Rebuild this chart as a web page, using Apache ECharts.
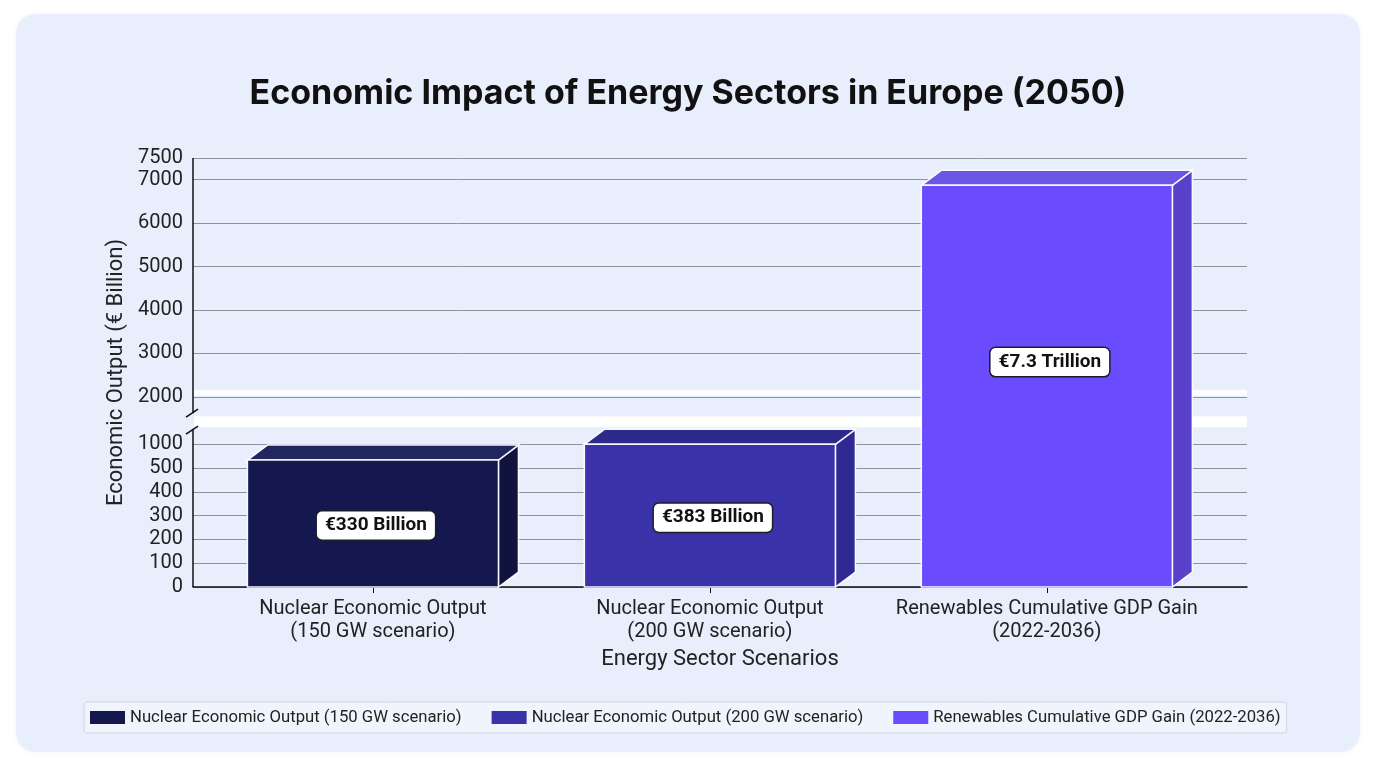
<!doctype html>
<html>
<head>
<meta charset="UTF-8">
<title>Economic Impact of Energy Sectors in Europe (2050)</title>
<style>
	html, body {
		margin: 0;
		padding: 0;
		background: #ffffff;
		width: 1376px;
		height: 768px;
		overflow: hidden;
	}
	#card {
		position: absolute;
		left: 16px;
		top: 14px;
		width: 1344px;
		height: 738px;
		border-radius: 20px;
		background: #e8eefb;
		box-shadow: 0 0 6px rgba(0, 0, 0, 0.05);
	}
	#chart {
		position: absolute;
		left: 0;
		top: 0;
		width: 1376px;
		height: 768px;
	}
</style>
</head>
<body>
<div id="card"></div>
<div id="chart"></div>
<script src="https://cdn.jsdelivr.net/npm/echarts@6.0.0/dist/echarts.min.js"></script>
<script>
	// data
	var categories = [
		'Nuclear Economic Output\n(150 GW scenario)',
		'Nuclear Economic Output\n(200 GW scenario)',
		'Renewables Cumulative GDP Gain\n(2022-2036)'
	];
	var seriesNames = [
		'Nuclear Economic Output (150 GW scenario)',
		'Nuclear Economic Output (200 GW scenario)',
		'Renewables Cumulative GDP Gain (2022-2036)'
	];
	// bar heights as they read against the (broken) axis
	var barValues = [670, 1000, 6870];
	var barLabels = ['€330 Billion', '€383 Billion', '€7.3 Trillion'];
	var yTicks = [0, 100, 200, 300, 400, 500, 1000, 2000, 3000, 4000, 5000, 6000, 7000, 7500];

	// front / top / side colours of each box
	var faceColors = [
		['#15184f', '#22265f', '#10133e'],
		['#3a32a8', '#2e2a8c', '#2f2994'],
		['#6a4bfd', '#6b55e6', '#5a41cc']
	];

	// piecewise scale of the broken axis -> plain axis units
	function toAxis(v) {
		if (v <= 500) return v / 100;
		if (v <= 1000) return 5 + (v - 500) / 500;
		if (v <= 2000) return 6 + (v - 1000) / 500;
		return 8 + (v - 2000) / 1000 * 1.826;
	}
	var yMax = toAxis(7500);

	function tickLabel(u) {
		for (var i = 0; i < yTicks.length; i++) {
			if (Math.abs(toAxis(yTicks[i]) - u) < 1e-6) return String(yTicks[i]);
		}
		return '';
	}

	var DX = 20, DY = 15, BAR_W = 0.745;

	function renderBox(params, api) {
		var idx = api.value(2);
		var col = faceColors[idx];
		var top = api.coord([api.value(0), api.value(1)]);
		var base = api.coord([api.value(0), 0]);
		var w = api.size([BAR_W, 0])[0];
		var x = top[0] - w / 2;
		var y = top[1];
		var b = base[1];
		// the tall box has its label a bit above the middle
		var ly = idx === 2 ? y + (b - y) * 0.44 : (y + b) / 2 + 2;
		var edge = { stroke: 'rgba(255,255,255,0.95)', lineWidth: 1.5 };
		return {
			type: 'group',
			children: [{
				type: 'polygon',
				shape: { points: [[x + w, y], [x + w + DX, y - DY], [x + w + DX, b - DY], [x + w, b]] },
				style: Object.assign({ fill: col[2] }, edge)
			}, {
				type: 'polygon',
				shape: { points: [[x, y], [x + DX, y - DY], [x + w + DX, y - DY], [x + w, y]] },
				style: Object.assign({ fill: col[1] }, edge)
			}, {
				type: 'rect',
				shape: { x: x, y: y, width: w, height: b - y },
				style: Object.assign({ fill: col[0] }, edge)
			}, {
				type: 'text',
				style: {
					text: barLabels[idx],
					x: x + w / 2 + 3,
					y: ly,
					align: 'center',
					verticalAlign: 'middle',
					font: 'bold 19px Roboto, "Noto Sans", sans-serif',
					fill: '#111',
					backgroundColor: '#ffffff',
					borderColor: '#1c1c2a',
					borderWidth: 1.5,
					borderRadius: 5,
					padding: [5, 8, 4, 8]
				}
			}]
		};
	}

	// white break bands, y axis line with gap and break slashes
	function renderDecor(params, api) {
		var cs = params.coordSys;
		var yOf = function (u) { return api.coord([0, u])[1]; };
		var x0 = cs.x;
		var gapTop = yOf(7.31), gapBot = yOf(6.6);
		var line = { stroke: '#111', lineWidth: 1.5 };
		return {
			type: 'group',
			children: [{
				type: 'rect',
				shape: { x: x0 + 1, y: yOf(7.18), width: cs.width - 1, height: yOf(6.72) - yOf(7.18) },
				style: { fill: 'rgba(255,255,255,0.95)' }
			}, {
				type: 'rect',
				shape: { x: x0 + 1, y: yOf(8.3), width: cs.width - 1, height: yOf(8.04) - yOf(8.3) },
				style: { fill: 'rgba(255,255,255,0.85)' }
			}, {
				type: 'line',
				shape: { x1: x0, y1: cs.y, x2: x0, y2: gapTop },
				style: line
			}, {
				type: 'line',
				shape: { x1: x0, y1: gapBot, x2: x0, y2: cs.y + cs.height },
				style: line
			}, {
				type: 'line',
				shape: { x1: x0 - 7, y1: gapTop + 4, x2: x0 + 5, y2: gapTop - 4 },
				style: line
			}, {
				type: 'line',
				shape: { x1: x0 - 7, y1: gapBot + 4, x2: x0 + 5, y2: gapBot - 4 },
				style: line
			}]
		};
	}

	var series = [{
		name: 'decor',
		type: 'custom',
		silent: true,
		z: 1,
		renderItem: renderDecor,
		data: [[0, 0]]
	}];
	for (var i = 0; i < barValues.length; i++) {
		series.push({
			name: seriesNames[i],
			type: 'custom',
			z: 3,
			renderItem: renderBox,
			itemStyle: { color: faceColors[i][0] },
			encode: { x: 0, y: 1 },
			data: [[i, toAxis(barValues[i]), i]]
		});
	}

	var chart = echarts.init(document.getElementById('chart'));
	chart.setOption({
		animation: false,
		textStyle: { fontFamily: 'Roboto, "Noto Sans", sans-serif' },
		title: {
			text: 'Economic Impact of Energy Sectors in Europe (2050)',
			left: 'center',
			top: 72,
			textStyle: { fontSize: 34, fontWeight: 'bold', color: '#111', fontFamily: 'Inter, Roboto, sans-serif' }
		},
		grid: { left: 193, right: 129, top: 158, bottom: 181 },
		legend: {
			data: seriesNames,
			left: 84,
			top: 702,
			icon: 'rect',
			itemWidth: 35,
			itemHeight: 13,
			itemGap: 30,
			padding: [7, 6, 7, 6],
			backgroundColor: 'rgba(255,255,255,0.35)',
			borderColor: '#cfd5e2',
			borderWidth: 1,
			borderRadius: 3,
			textStyle: { fontSize: 16.7, color: '#222' }
		},
		xAxis: {
			type: 'value',
			min: -0.534,
			max: 2.594,
			name: 'Energy Sector Scenarios',
			nameLocation: 'middle',
			nameGap: 61,
			nameTextStyle: { fontSize: 22, color: '#222' },
			axisLine: { lineStyle: { color: '#111', width: 1.5 } },
			axisTick: { customValues: [0, 1, 2], length: 6, lineStyle: { color: '#111' } },
			axisLabel: {
				customValues: [0, 1, 2],
				formatter: function (v) { return categories[v]; },
				fontSize: 20,
				lineHeight: 23,
				color: '#222',
				margin: 10
			},
			splitLine: { show: false }
		},
		yAxis: {
			type: 'value',
			min: 0,
			max: yMax,
			name: 'Economic Output (€ Billion)',
			nameLocation: 'middle',
			nameGap: 64,
			nameTextStyle: { fontSize: 22, color: '#222' },
			axisLine: { show: false },
			axisTick: { show: false, customValues: yTicks.map(toAxis) },
			axisLabel: {
				customValues: yTicks.map(toAxis),
				formatter: tickLabel,
				fontSize: 20,
				color: '#222',
				margin: 10
			},
			splitLine: { lineStyle: { color: '#8d929c', width: 1 } }
		},
		series: series
	});
</script>
</body>
</html>
